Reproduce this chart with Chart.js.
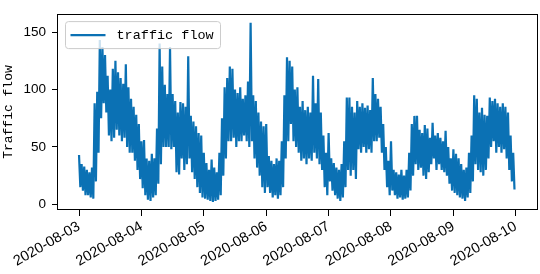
<!DOCTYPE html>
<html>
<head>
<meta charset="utf-8">
<script src="https://cdn.jsdelivr.net/npm/chart.js@4.4.1/dist/chart.umd.min.js"></script>
<style>
  html, body { margin: 0; padding: 0; background: #fff; }
  #wrap { width: 540px; height: 274px; position: relative; }
</style>
</head>
<body>
<div id="wrap"><canvas id="flow-chart"></canvas></div>
<script>
// tick labels, one per day
const dayLabels = ["2020-08-03", "2020-08-04", "2020-08-05", "2020-08-06",
  "2020-08-07", "2020-08-08", "2020-08-09", "2020-08-10"];
const yTicks = [0, 50, 100, 150];

// hourly upper / lower reading of the band, per day (24 values each)
const hi0803 = [43, 35, 33, 30, 28, 32, 88, 98, 143, 137, 130, 112, 100, 118, 125, 115, 110, 105, 122, 102, 92, 85, 78, 70];
const lo0803 = [15, 12, 8, 8, 6, 5, 20, 45, 75, 88, 80, 60, 55, 58, 65, 60, 55, 58, 50, 45, 45, 38, 30, 22];
const hi0804 = [55, 56, 40, 38, 44, 40, 66, 140, 120, 104, 96, 137, 96, 90, 80, 89, 88, 85, 129, 77, 72, 68, 62, 60];
const lo0804 = [14, 8, 4, 3, 6, 8, 18, 35, 50, 50, 50, 48, 50, 28, 26, 40, 30, 35, 40, 28, 22, 15, 10, 6];
const hi0805 = [45, 36, 30, 39, 32, 28, 45, 75, 102, 110, 120, 118, 100, 97, 102, 92, 95, 107, 158, 95, 90, 80, 72, 68];
const lo0805 = [5, 4, 3, 2, 3, 4, 8, 25, 40, 55, 55, 58, 50, 55, 55, 60, 55, 50, 55, 40, 32, 25, 15, 10];
const hi0806 = [70, 42, 38, 35, 40, 38, 55, 95, 128, 125, 120, 100, 102, 85, 90, 82, 85, 80, 112, 88, 109, 80, 60, 45];
const lo0806 = [15, 10, 6, 8, 5, 8, 15, 40, 55, 70, 55, 50, 45, 38, 40, 35, 40, 38, 45, 40, 35, 30, 15, 8];
const hi0807 = [62, 40, 36, 32, 30, 35, 55, 93, 93, 85, 80, 90, 85, 88, 84, 86, 82, 110, 96, 92, 85, 70, 50, 38];
const lo0807 = [20, 12, 8, 5, 3, 6, 15, 30, 25, 30, 22, 48, 45, 50, 45, 48, 45, 55, 55, 58, 45, 30, 15, 8];
const hi0808 = [55, 30, 28, 26, 30, 25, 30, 45, 70, 77, 77, 65, 62, 69, 66, 58, 71, 60, 62, 58, 55, 64, 50, 40];
const lo0808 = [12, 8, 5, 6, 4, 5, 6, 12, 25, 35, 30, 32, 25, 22, 28, 35, 40, 30, 35, 30, 28, 25, 18, 12];
const hi0809 = [48, 44, 40, 35, 30, 32, 45, 60, 95, 92, 80, 84, 78, 77, 93, 90, 92, 88, 85, 88, 85, 80, 60, 45];
const lo0809 = [10, 8, 6, 5, 3, 6, 10, 20, 35, 30, 28, 25, 30, 40, 50, 55, 45, 50, 45, 48, 40, 30, 20, 13];

const hiDays = [hi0803, hi0804, hi0805, hi0806, hi0807, hi0808, hi0809];
const loDays = [lo0803, lo0804, lo0805, lo0806, lo0807, lo0808, lo0809];

// x is in days since 2020-08-03 00:00
const points = [];
hiDays.forEach((hiDay, d) => {
  hiDay.forEach((v, h) => {
    points.push({ x: d + h / 24, y: v });
    points.push({ x: d + (h + 0.5) / 24, y: loDays[d][h] });
  });
});

const lineColor = "#0b71b4";
const yTickFont = { family: "'Liberation Sans', Arial, sans-serif", size: 13.5 };
const xTickFont = { family: "'Liberation Sans', Arial, sans-serif", size: 14.5 };
const monoFont = "'Liberation Mono', 'DejaVu Sans Mono', monospace";

// box round the plot, and a matplotlib style legend inside it
const framePlugin = {
  id: "frame",
  afterDraw(chart) {
    const { ctx, chartArea: a } = chart;
    ctx.save();
    ctx.strokeStyle = "#000";
    ctx.lineWidth = 1;
    ctx.strokeRect(Math.round(a.left) - 0.5, Math.round(a.top) + 0.5,
      Math.round(a.right - a.left), Math.round(a.bottom - a.top) - 1);

    const ds = chart.data.datasets[0];
    const bx = a.left + 7.5, by = a.top + 7.5, bw = 155, bh = 27;
    ctx.beginPath();
    ctx.roundRect(bx, by, bw, bh, 3);
    ctx.fillStyle = "rgba(255,255,255,0.8)";
    ctx.fill();
    ctx.strokeStyle = "#cccccc";
    ctx.stroke();
    ctx.beginPath();
    ctx.moveTo(bx + 5, by + 13.5);
    ctx.lineTo(bx + 40, by + 13.5);
    ctx.strokeStyle = ds.borderColor;
    ctx.lineWidth = 2.2;
    ctx.stroke();
    ctx.fillStyle = "#000";
    ctx.font = "13.5px " + monoFont;
    ctx.textBaseline = "middle";
    ctx.fillText(ds.label, bx + 51, by + 14);
    ctx.restore();
  },
};

const flowChart = new Chart(document.getElementById("flow-chart"), {
  type: "line",
  data: {
    datasets: [
      {
        label: "traffic flow",
        data: points,
        borderColor: lineColor,
        borderWidth: 2.2,
        pointRadius: 0,
        tension: 0,
        fill: false,
      },
    ],
  },
  options: {
    responsive: true,
    maintainAspectRatio: false,
    animation: false,
    layout: { padding: { left: 0, right: 2, top: 2, bottom: 0 } },
    plugins: {
      legend: { display: false },
      tooltip: { enabled: false },
    },
    scales: {
      x: {
        type: "linear",
        min: -0.337,
        max: 7.356,
        afterBuildTicks: (s) => {
          s.ticks = dayLabels.map((_, i) => ({ value: i }));
        },
        afterFit: (s) => { s.height = 64; },
        grid: { drawOnChartArea: false, drawTicks: true, tickLength: 6, color: "#000" },
        border: { display: false },
        ticks: {
          autoSkip: false,
          minRotation: 30,
          maxRotation: 30,
          padding: 2,
          color: "#000",
          font: xTickFont,
          callback: (v) => dayLabels[v],
        },
      },
      y: {
        min: -4.9,
        max: 165.6,
        afterBuildTicks: (s) => {
          s.ticks = yTicks.map((v) => ({ value: v }));
        },
        afterFit: (s) => { s.width = 58; },
        grid: { drawOnChartArea: false, drawTicks: true, tickLength: 6, color: "#000" },
        border: { display: false },
        ticks: { padding: 6, color: "#000", font: yTickFont },
        title: {
          display: true,
          text: "Traffic flow",
          color: "#000",
          padding: { top: 1, bottom: 0 },
          font: { family: monoFont, size: 13 },
        },
      },
    },
  },
  plugins: [framePlugin],
});
</script>
</body>
</html>
